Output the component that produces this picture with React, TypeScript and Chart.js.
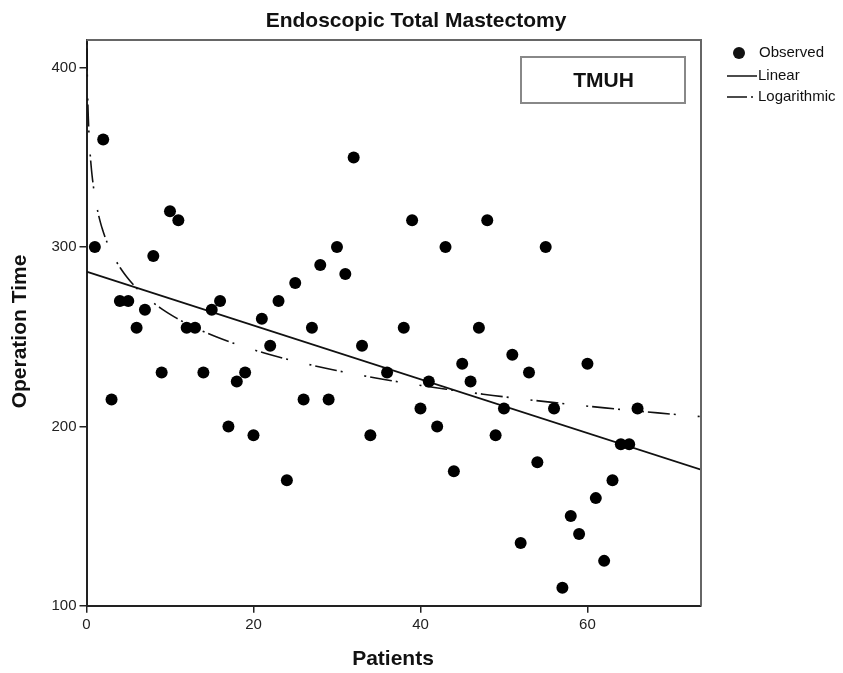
import { useEffect, useRef } from "react";
import { Chart, registerables } from "chart.js";

Chart.register(...registerables);

// ---- data ----
const PATIENTS = [
  1, 2, 3, 4, 5, 6, 7, 8, 9, 10,
  11, 12, 13, 14, 15, 16, 17, 18, 19, 20,
  21, 22, 23, 24, 25, 26, 27, 28, 29, 30,
  31, 32, 33, 34, 36, 38, 39, 40, 41, 42,
  43, 44, 45, 46, 47, 48, 49, 50, 51, 52,
  53, 54, 55, 56, 57, 58, 59, 60, 61, 62,
  63, 64, 65, 66,
];
const OPERATION_TIME = [
  300, 360, 215, 270, 270, 255, 265, 295, 230, 320,
  315, 255, 255, 230, 265, 270, 200, 225, 230, 195,
  260, 245, 270, 170, 280, 215, 255, 290, 215, 300,
  285, 350, 245, 195, 230, 255, 315, 210, 225, 200,
  300, 175, 235, 225, 255, 315, 195, 210, 240, 135,
  230, 180, 300, 210, 110, 150, 140, 235, 160, 125,
  170, 190, 190, 210,
];
const X_TICKS = [0, 20, 40, 60];
const Y_TICKS = [100, 200, 300, 400];
const X_MIN = 0;
const X_MAX = 73.6;
const Y_MIN = 100;
const Y_MAX = 415.5;

const CHART_TITLE = "Endoscopic Total Mastectomy";
const X_TITLE = "Patients";
const Y_TITLE = "Operation Time";
const BOX_LABEL = "TMUH";
const LEGEND_LABELS = ["Observed", "Linear", "Logarithmic"];

// ---- least-squares fits of the observed data ----
function fit(xs: number[], ys: number[]) {
  const n = xs.length;
  const mx = xs.reduce((a, b) => a + b, 0) / n;
  const my = ys.reduce((a, b) => a + b, 0) / n;
  let sxy = 0;
  let sxx = 0;
  for (let i = 0; i < n; i++) {
    sxy += (xs[i] - mx) * (ys[i] - my);
    sxx += (xs[i] - mx) * (xs[i] - mx);
  }
  const b = sxy / sxx;
  return { a: my - b * mx, b };
}

const LIN = fit(PATIENTS, OPERATION_TIME);
const LOG = fit(PATIENTS.map((x) => Math.log(x)), OPERATION_TIME);

const LOG_DASH = [2, 4, 22, 4, 2, 22];
const FONT = "'Liberation Sans', Arial, Helvetica, sans-serif";

const W = 827;
const H = 665;

export default function App() {
  const ref = useRef<HTMLCanvasElement | null>(null);

  useEffect(() => {
    const canvas = ref.current;
    if (!canvas) return;

    const linData = [X_MIN, X_MAX].map((x) => ({ x, y: LIN.a + LIN.b * x }));
    const logData: { x: number; y: number }[] = [];
    const x0 = 0.05;
    const steps = 300;
    for (let i = 0; i <= steps; i++) {
      const x = x0 * Math.pow(X_MAX / x0, i / steps);
      logData.push({ x, y: LOG.a + LOG.b * Math.log(x) });
    }

    const decor = {
      id: "decor",
      afterDraw(chart: any) {
        const { ctx, chartArea } = chart;
        const { left, right, top, bottom } = chartArea;
        ctx.save();
        // frame top & right
        ctx.strokeStyle = "#666";
        ctx.lineWidth = 2;
        ctx.beginPath();
        ctx.moveTo(left, top);
        ctx.lineTo(right, top);
        ctx.lineTo(right, bottom);
        ctx.stroke();

        // title
        ctx.fillStyle = "#111";
        ctx.font = `bold 21px ${FONT}`;
        ctx.textAlign = "center";
        ctx.textBaseline = "middle";
        ctx.fillText(CHART_TITLE, 408, 13);

        // axis titles
        ctx.fillText(X_TITLE, 385, 651);
        ctx.save();
        ctx.translate(12.5, 323.5);
        ctx.rotate(-Math.PI / 2);
        ctx.fillText(Y_TITLE, 0, 0);
        ctx.restore();

        // TMUH box
        ctx.fillStyle = "#fff";
        ctx.fillRect(513, 49, 164, 46);
        ctx.strokeStyle = "#888";
        ctx.lineWidth = 2;
        ctx.strokeRect(513, 49, 164, 46);
        ctx.fillStyle = "#111";
        ctx.fillText(BOX_LABEL, 595.5, 73);

        // legend
        ctx.font = `15px ${FONT}`;
        ctx.textAlign = "left";
        ctx.fillStyle = "#111";
        ctx.beginPath();
        ctx.arc(731, 45, 6, 0, Math.PI * 2);
        ctx.fill();
        ctx.fillText(LEGEND_LABELS[0], 751, 45);

        ctx.strokeStyle = "#111";
        ctx.lineWidth = 1.5;
        ctx.beginPath();
        ctx.moveTo(719, 68);
        ctx.lineTo(749, 68);
        ctx.stroke();
        ctx.fillText(LEGEND_LABELS[1], 750, 68);

        ctx.setLineDash([20, 4, 2, 10]);
        ctx.beginPath();
        ctx.moveTo(719, 89);
        ctx.lineTo(747, 89);
        ctx.stroke();
        ctx.setLineDash([]);
        ctx.fillText(LEGEND_LABELS[2], 750, 89);
        ctx.restore();
      },
    };

    const tickFont = { family: FONT, size: 15 };

    const chart = new Chart(canvas, {
      type: "scatter",
      data: {
        datasets: [
          {
            label: LEGEND_LABELS[0],
            data: PATIENTS.map((x, i) => ({ x, y: OPERATION_TIME[i] })),
            backgroundColor: "#000",
            borderWidth: 0,
            pointRadius: 6,
            pointHoverRadius: 6,
            clip: 0,
          },
          {
            label: LEGEND_LABELS[1],
            data: linData,
            showLine: true,
            borderColor: "#111",
            borderWidth: 1.8,
            pointRadius: 0,
            clip: 0,
          } as any,
          {
            label: LEGEND_LABELS[2],
            data: logData,
            showLine: true,
            borderColor: "#111",
            borderWidth: 1.6,
            borderDash: LOG_DASH,
            pointRadius: 0,
            clip: 0,
          } as any,
        ],
      },
      options: {
        responsive: false,
        animation: false,
        layout: { padding: { left: 0, top: 32, right: 134, bottom: 0 } },
        plugins: {
          legend: { display: false },
          title: { display: false },
          tooltip: { enabled: false },
        },
        scales: {
          x: {
            type: "linear",
            min: X_MIN,
            max: X_MAX,
            afterBuildTicks: (s: any) => {
              s.ticks = X_TICKS.map((v) => ({ value: v }));
            },
            afterFit: (s: any) => {
              s.height = H - 597.7;
            },
            grid: {
              drawOnChartArea: false,
              drawTicks: true,
              tickLength: 7,
              color: "#222",
              lineWidth: 1.5,
            },
            border: { display: true, color: "#222", width: 2 },
            ticks: {
              font: tickFont,
              color: "#222",
              padding: 3,
              maxRotation: 0,
              autoSkip: false,
            },
          },
          y: {
            type: "linear",
            min: Y_MIN,
            max: Y_MAX,
            afterBuildTicks: (s: any) => {
              s.ticks = Y_TICKS.map((v) => ({ value: v }));
            },
            afterFit: (s: any) => {
              s.width = 78.5;
            },
            grid: {
              drawOnChartArea: false,
              drawTicks: true,
              tickLength: 7,
              color: "#222",
              lineWidth: 1.5,
            },
            border: { display: true, color: "#222", width: 2 },
            ticks: {
              font: tickFont,
              color: "#222",
              padding: 3,
              autoSkip: false,
            },
          },
        },
      },
      plugins: [decor],
    });

    return () => chart.destroy();
  }, []);

  return (
    <div style={{ width: W, height: H, marginBottom: -8 }}>
      <canvas ref={ref} width={W} height={H} style={{ display: "block" }} />
    </div>
  );
}
